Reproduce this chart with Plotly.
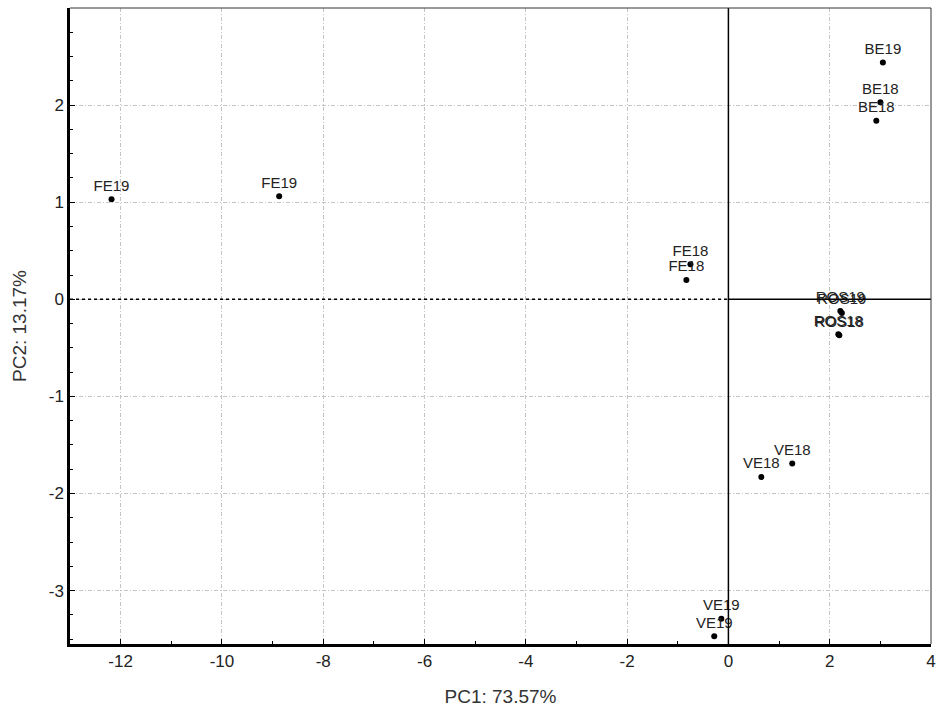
import plotly.graph_objects as go

labels = ["FE19", "FE19", "FE18", "FE18", "BE19", "BE18", "BE18",
          "ROS19", "ROS19", "ROS18", "ROS18", "VE18", "VE18", "VE19", "VE19"]
pc1 = [-12.18, -8.87, -0.75, -0.83, 3.05, 3.00, 2.92,
       2.21, 2.24, 2.17, 2.19, 1.26, 0.65, -0.14, -0.28]
pc2 = [1.03, 1.06, 0.36, 0.20, 2.44, 2.03, 1.84,
       -0.12, -0.14, -0.36, -0.37, -1.69, -1.83, -3.29, -3.47]

x_ticks = [-12, -10, -8, -6, -4, -2, 0, 2, 4]
x_ticktext = ["-12", "-10", "-8", "-6", "-4", "-2", "0", "2", "4"]
y_ticks = [-3, -2, -1, 0, 1, 2]
y_ticktext = ["-3", "-2", "-1", "0", "1", "2"]

FONT = "Liberation Sans, Arial"

fig = go.Figure()
fig.add_trace(go.Scatter(
    x=pc1, y=pc2, mode="markers+text", text=labels,
    textposition="top center",
    textfont=dict(family=FONT, size=15, color="#222"),
    marker=dict(color="black", size=6),
    cliponaxis=False, showlegend=False))

# reference lines
fig.add_shape(type="line", xref="x", yref="paper", x0=0, x1=0, y0=0, y1=1,
              line=dict(color="black", width=1.5))
fig.add_shape(type="line", xref="paper", yref="y", x0=0, x1=13/17, y0=0, y1=0,
              line=dict(color="black", width=1.5, dash="dot"))
fig.add_shape(type="line", xref="x", yref="y", x0=0, x1=4, y0=0, y1=0,
              line=dict(color="black", width=1.5))
# thin top and right frame
fig.add_shape(type="line", xref="paper", yref="paper", x0=0, x1=1, y0=1, y1=1,
              line=dict(color="#333", width=1))
fig.add_shape(type="line", xref="paper", yref="paper", x0=1, x1=1, y0=0, y1=1,
              line=dict(color="#333", width=1))

axis_common = dict(
    showline=True, linecolor="black", linewidth=2.5, mirror=False,
    showgrid=True, gridcolor="#c4c4c4", griddash="4px,2px,1px,2px", gridwidth=1,
    zeroline=False, ticks="inside", ticklen=5, tickcolor="black",
    tickfont=dict(family=FONT, size=17, color="#222"),
)

fig.update_xaxes(range=[-13, 4], tickvals=x_ticks, ticktext=x_ticktext, **axis_common,
                 minor=dict(dtick=1, ticks="inside", ticklen=3, tickcolor="black", showgrid=False),
                 title=dict(text="PC1: 73.57%", standoff=20,
                            font=dict(family=FONT, size=19, color="#333")))
fig.update_yaxes(range=[-3.55, 3.0], tickvals=y_ticks, ticktext=y_ticktext, **axis_common,
                 minor=dict(dtick=0.25, ticks="inside", ticklen=3, tickcolor="black", showgrid=False),
                 title=dict(text="PC2: 13.17%", standoff=18,
                            font=dict(family=FONT, size=19, color="#333")))

fig.update_layout(
    width=941, height=715,
    margin=dict(l=70, r=5, t=8, b=71),
    plot_bgcolor="white", paper_bgcolor="white",
)

fig.write_html("out.html")
